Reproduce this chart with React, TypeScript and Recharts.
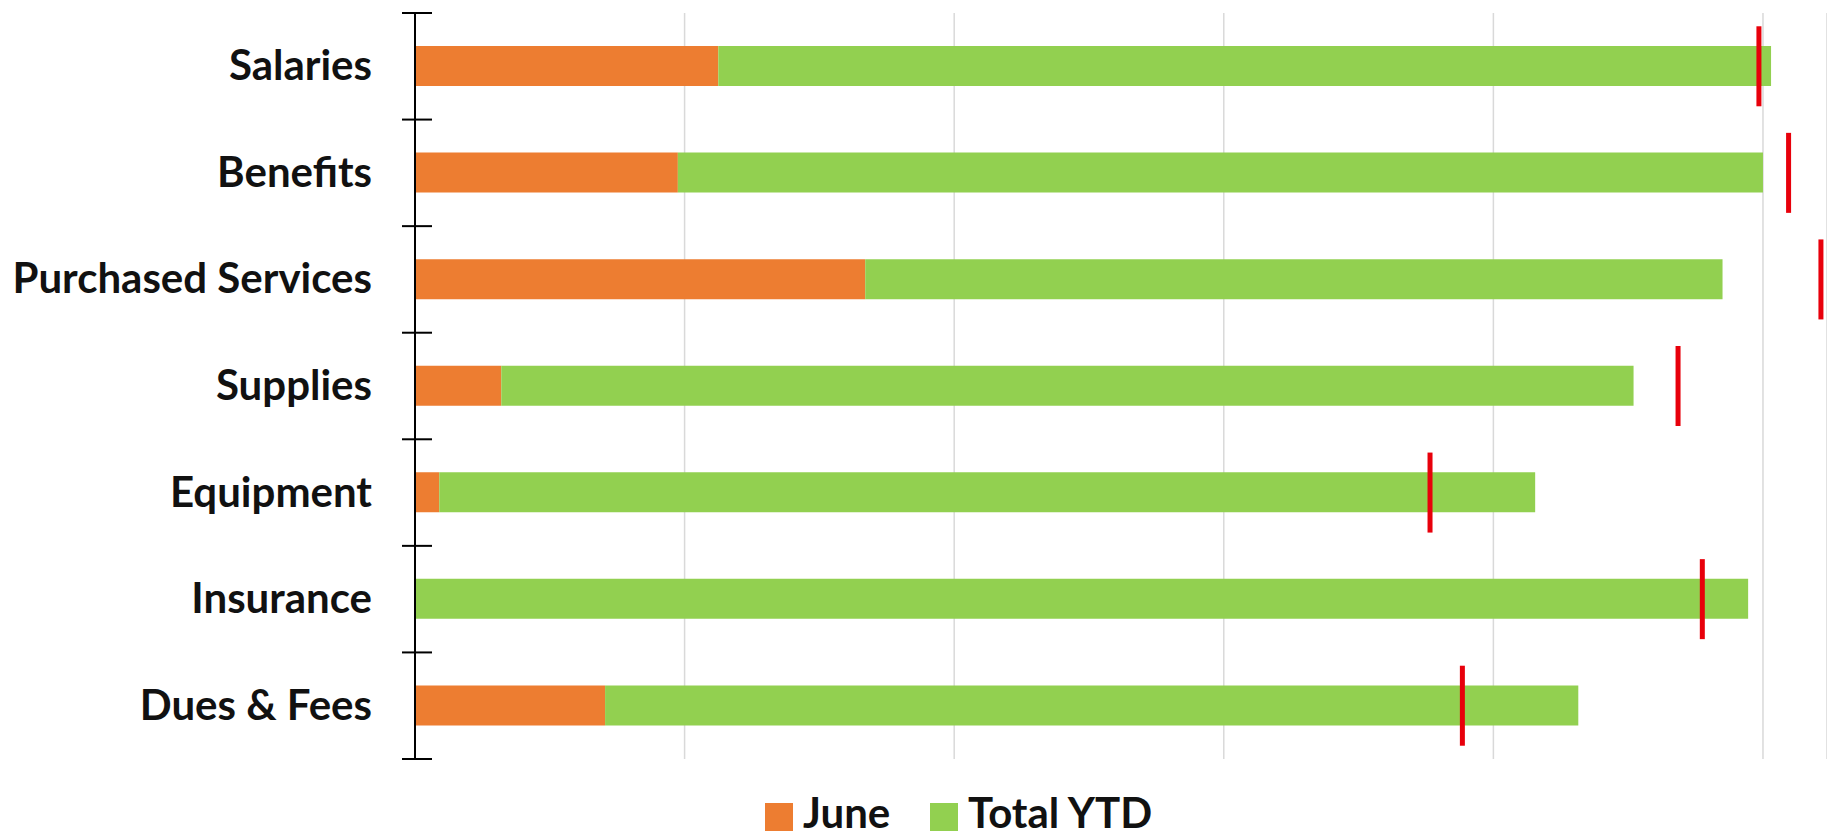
import React from 'react';
import { ComposedChart, Bar, Line, XAxis, YAxis, CartesianGrid, Legend } from 'recharts';

const categories = ['Salaries', 'Benefits', 'Purchased Services', 'Supplies', 'Equipment', 'Insurance', 'Dues & Fees'];
const juneValues = [22.5, 19.5, 33.4, 6.4, 1.8, 0, 14.1];
const totalYtdValues = [78.1, 80.5, 63.6, 84.0, 81.3, 98.9, 72.2];
const targetValues = [99.7, 101.9, 104.3, 93.7, 75.3, 95.5, 77.7];
const xTicks = [0, 20, 40, 60, 80, 100];

const data = categories.map((name, i) => ({
  name,
  june: juneValues[i],
  ytd: totalYtdValues[i],
  target: targetValues[i],
}));

const FONT = 'Lato, "Open Sans", sans-serif';
const ORANGE = '#ED7D31';
const GREEN = '#92D050';
const RED = '#E8000B';

const CategoryTick = (props: any) => {
  const { x, y, payload, index } = props;
  const half = payload && typeof payload.offset === 'number' ? payload.offset : 53.3;
  return (
    <g>
      <line x1={x - 13} x2={x + 17} y1={y - half} y2={y - half} stroke="#000" strokeWidth={2} />
      {index === categories.length - 1 && (
        <line x1={x - 13} x2={x + 17} y1={y + half} y2={y + half} stroke="#000" strokeWidth={2} />
      )}
      <text x={x - 43} y={y} dy={14} textAnchor="end" fontFamily={FONT} fontWeight={700} fontSize={42} fill="#111">
        {payload.value}
      </text>
    </g>
  );
};

const TargetMark = (props: any) => {
  const { cx, cy, index } = props;
  if (cx == null || cy == null) return <g key={`t-${index}`} />;
  return <rect key={`t-${index}`} x={cx - 2.5} y={cy - 40} width={5} height={80} fill={RED} />;
};

const LegendContent = (props: any) => {
  const items = (props.payload || []).filter((p: any) => p.type !== 'none');
  const lefts = [0, 165];
  return (
    <div style={{ position: 'relative', width: 420, height: 42, fontFamily: FONT, fontWeight: 700, fontSize: 42, color: '#111' }}>
      {items.map((it: any, i: number) => (
        <React.Fragment key={it.value}>
          <span style={{ position: 'absolute', left: lefts[i], top: 12, width: 28, height: 28, background: it.color }} />
          <span style={{ position: 'absolute', left: lefts[i] + 38, top: 0, height: 42, lineHeight: '42px', whiteSpace: 'nowrap' }}>{it.value}</span>
        </React.Fragment>
      ))}
    </div>
  );
};

export default function App() {
  return (
    <div style={{ position: 'absolute', left: 0, top: 0, width: 1827, height: 840, background: '#fff', overflow: 'hidden' }}>
      <ComposedChart
        width={1827}
        height={840}
        data={data}
        layout="vertical"
        margin={{ top: 13, right: 0, bottom: 81, left: 0 }}
      >
        <CartesianGrid horizontal={false} stroke="#d9d9d9" strokeWidth={1.5} />
        <XAxis type="number" domain={[0, 104.75]} ticks={xTicks} hide allowDataOverflow />
        <YAxis
          type="category"
          dataKey="name"
          width={415}
          axisLine={{ stroke: '#000', strokeWidth: 2 }}
          tickLine={false}
          tickSize={0}
          tickMargin={0}
          tick={<CategoryTick />}
          interval={0}
        />
        <Bar dataKey="june" name="June" stackId="a" fill={ORANGE} barSize={40} isAnimationActive={false} />
        <Bar dataKey="ytd" name="Total YTD" stackId="a" fill={GREEN} barSize={40} isAnimationActive={false} />
        <Line
          dataKey="target"
          stroke="none"
          strokeWidth={0}
          dot={(p: any) => <TargetMark {...p} />}
          activeDot={false}
          legendType="none"
          isAnimationActive={false}
        />
        <Legend
          layout="horizontal"
          verticalAlign="middle"
          align="center"
          content={<LegendContent />}
          wrapperStyle={{ left: 765, top: 791, width: 420, height: 42 }}
        />
      </ComposedChart>
    </div>
  );
}
